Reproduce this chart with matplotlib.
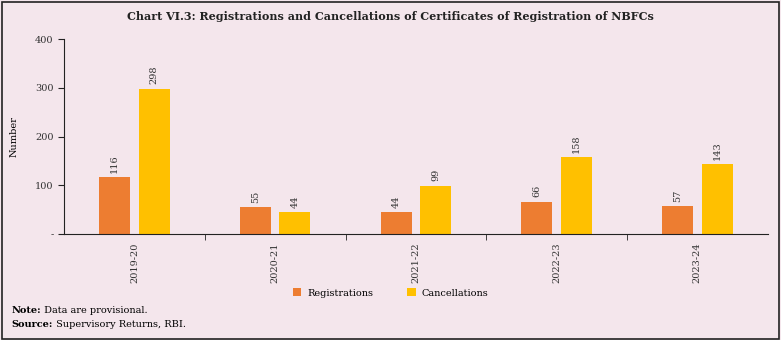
import numpy as np
import matplotlib.pyplot as plt
from matplotlib.patches import Rectangle

years = ['2019-20', '2020-21', '2021-22', '2022-23', '2023-24']
registrations = [116, 55, 44, 66, 57]
cancellations = [298, 44, 99, 158, 143]

bg = '#F4E6EC'
c_reg = '#ED7D31'
c_can = '#FFC000'

plt.rcParams['font.family'] = 'DejaVu Serif'

fig = plt.figure(figsize=(7.81, 3.40), dpi=100, facecolor=bg)
ax = fig.add_axes([0.082, 0.312, 0.901, 0.573], facecolor=bg)

x = np.arange(len(years))
w = 0.22
b1 = ax.bar(x - 0.14, registrations, w, color=c_reg, label='Registrations')
b2 = ax.bar(x + 0.14, cancellations, w, color=c_can, label='Cancellations')

for bars, vals in [(b1, registrations), (b2, cancellations)]:
    for r, v in zip(bars, vals):
        ax.text(r.get_x() + r.get_width() / 2, v + 9, str(v), rotation=90,
                ha='center', va='bottom', fontsize=7, color='#333333')

ax.set_xlim(-0.5, len(years) - 0.5)
ax.set_ylim(0, 400)
ax.set_yticks([0, 100, 200, 300, 400])
ax.set_yticklabels(['-', '100', '200', '300', '400'], fontsize=7, color='#333333')
ax.set_xticks(x)
ax.set_xticklabels(years, rotation=90, fontsize=7, color='#333333')
ax.tick_params(axis='x', which='major', length=0, pad=6)
ax.set_xticks(np.arange(0.5, len(years) - 0.5, 1), minor=True)
ax.tick_params(axis='x', which='minor', length=4, color='#222222')
ax.tick_params(axis='y', length=4, color='#222222')
for s in ['top', 'right']:
    ax.spines[s].set_visible(False)
ax.spines['left'].set_color('#222222')
ax.spines['bottom'].set_color('#222222')
ax.set_ylabel('Number', fontsize=7, labelpad=12)

fig.text(0.5, 0.95, 'Chart VI.3: Registrations and Cancellations of Certificates of Registration of NBFCs',
         ha='center', va='center', fontsize=8, fontweight='bold', color='#222222')

fig.legend(handles=[b1, b2], loc='center', bbox_to_anchor=(0.5, 0.138), ncol=2,
           frameon=False, fontsize=7, handlelength=0.9, handleheight=0.9,
           columnspacing=3.5, handletextpad=0.6)

n1 = fig.text(0.015, 0.088, 'Note:', fontsize=7, va='center', fontweight='bold')
s1 = fig.text(0.015, 0.046, 'Source:', fontsize=7, va='center', fontweight='bold')
fig.canvas.draw()
r = fig.canvas.get_renderer()
for lab, txt in [(n1, ' Data are provisional.'), (s1, ' Supervisory Returns, RBI.')]:
    bb = lab.get_window_extent(r).transformed(fig.transFigure.inverted())
    fig.text(bb.x1, lab.get_position()[1], txt, fontsize=7, va='center')

fig.patches.append(Rectangle((0.002, 0.004), 0.996, 0.99, transform=fig.transFigure,
                             fill=False, edgecolor='#222222', linewidth=1.2))

fig.savefig('out.png', dpi=100, facecolor=bg)
